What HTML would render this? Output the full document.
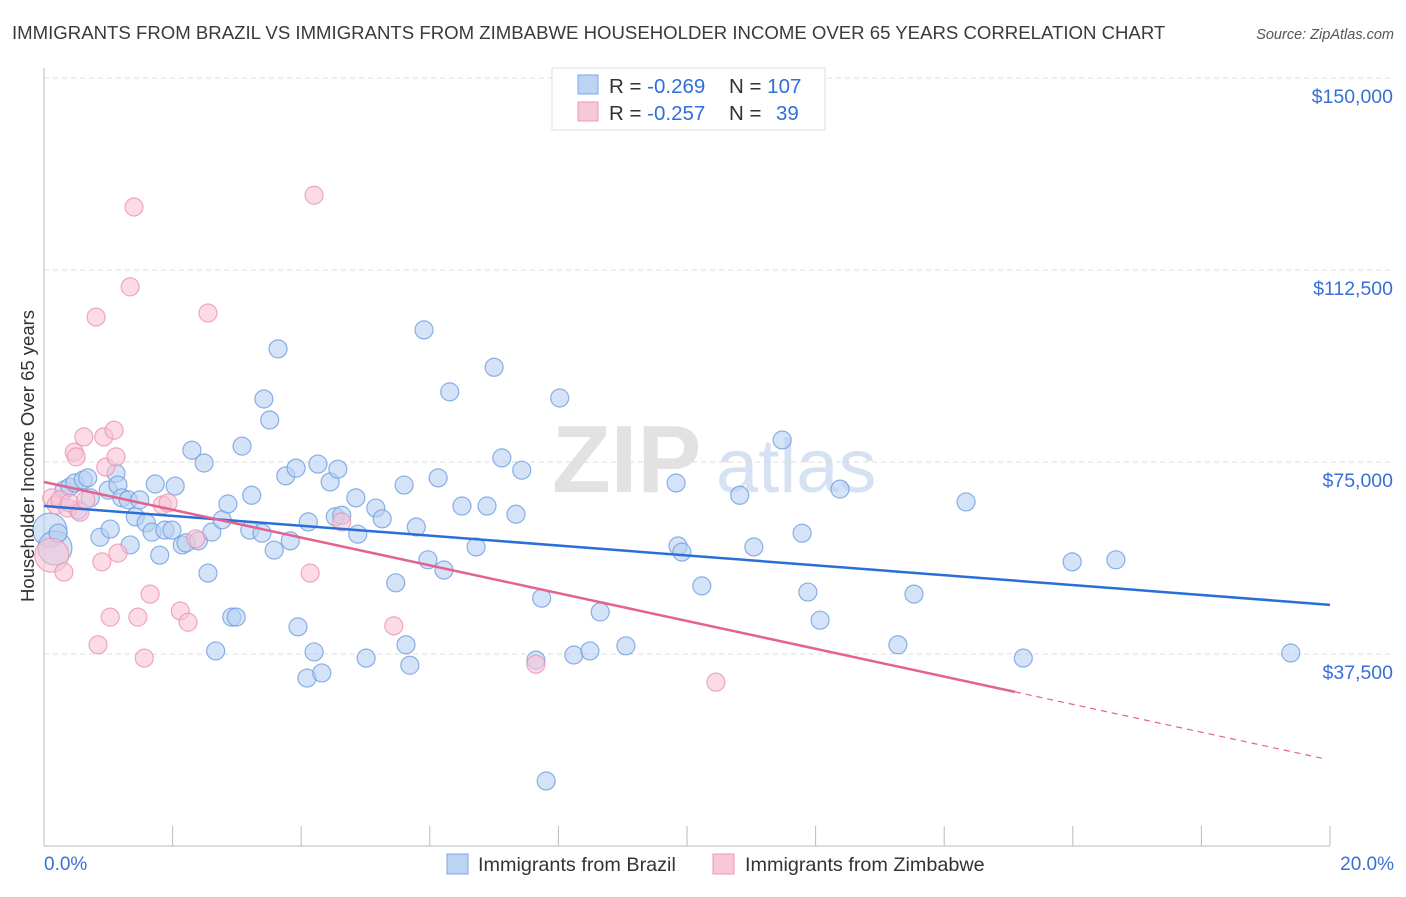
<!DOCTYPE html>
<html><head><meta charset="utf-8"><style>
body{margin:0;background:#fff;font-family:"Liberation Sans",sans-serif;}
svg text{font-family:"Liberation Sans",sans-serif;}
</style></head><body>
<svg id="chart" width="1406" height="892" xmlns="http://www.w3.org/2000/svg">
<text x="12" y="39" font-size="18.6" fill="#3a3a3a">IMMIGRANTS FROM BRAZIL VS IMMIGRANTS FROM ZIMBABWE HOUSEHOLDER INCOME OVER 65 YEARS CORRELATION CHART</text>
<text x="1394" y="39" font-size="14.5" fill="#555" font-style="italic" text-anchor="end">Source: ZipAtlas.com</text>
<g>
<text x="552" y="492" font-size="96" fill="#e2e2e2" font-family="Liberation Serif" font-weight="bold">ZIP</text>
<text x="716" y="492" font-size="76" fill="#d6e2f2">atlas</text>
</g>
<g id="grid"></g>
<g id="axes"></g>
<g id="pts"></g>
<g id="trends"></g>
<g>
<rect x="552" y="68" width="273" height="62" fill="#fff" stroke="#ddd"/>
<rect x="578" y="75" width="20" height="19" fill="#bcd4f4" stroke="#7ea6e0"/>
<rect x="578" y="102" width="20" height="19" fill="#f9c8d7" stroke="#eb9ab4"/>
<text x="609" y="93" font-size="20.5" fill="#333">R = <tspan fill="#2f6fd6">-0.269</tspan><tspan x="729">N = </tspan><tspan fill="#2f6fd6">107</tspan></text>
<text x="609" y="120" font-size="20.5" fill="#333">R = <tspan fill="#2f6fd6">-0.257</tspan><tspan x="729">N = </tspan><tspan fill="#2f6fd6" x="776">39</tspan></text>
</g>
<g>
<rect x="447" y="854" width="21" height="20" fill="#bcd4f4" stroke="#7ea6e0"/>
<text x="478" y="871" font-size="19.8" fill="#333">Immigrants from Brazil</text>
<rect x="713" y="854" width="21" height="20" fill="#f9c8d7" stroke="#eb9ab4"/>
<text x="745" y="871" font-size="19.8" fill="#333">Immigrants from Zimbabwe</text>
</g>
<text transform="translate(34,456) rotate(-90)" font-size="18.5" fill="#333" text-anchor="middle">Householder Income Over 65 years</text>
</svg>
<script>
const yTicks=[37500,75000,112500,150000];
const yTickLabels=["$37,500","$75,000","$112,500","$150,000"];
const xTickLabels=["0.0%","20.0%"];
const brazilX=[0.09,0.17,0.22,0.31,0.40,0.48,0.61,0.68,0.53,0.72,0.87,1.00,1.03,1.12,1.15,1.21,1.31,1.34,1.42,1.49,1.59,1.68,1.73,1.80,1.88,1.99,2.04,2.15,2.21,2.30,2.40,2.49,2.55,2.61,2.67,2.77,2.86,2.92,2.99,3.08,3.23,3.20,3.39,3.42,3.51,3.58,3.64,3.76,3.83,3.92,3.95,4.11,4.09,4.20,4.26,4.32,4.45,4.53,4.57,4.63,4.85,4.88,5.01,5.16,5.26,5.47,5.60,5.63,5.69,5.79,5.91,5.97,6.13,6.22,6.31,6.50,6.72,6.89,7.00,7.12,7.34,7.43,7.74,7.65,7.81,8.02,8.24,8.49,8.65,9.05,9.83,9.86,9.92,10.23,10.82,11.04,11.48,11.79,11.88,12.07,12.38,13.28,13.53,14.34,15.23,15.99,16.67,19.39];
const brazilY=[61.7,58.2,61.1,69.5,70.1,70.9,71.5,71.9,65.6,68.0,60.3,69.5,61.9,72.8,70.5,68.0,67.6,58.8,64.3,67.6,63.1,61.3,70.7,56.8,61.7,61.7,70.3,58.8,59.2,77.3,59.6,74.8,53.3,61.3,38.1,63.7,66.8,44.7,44.7,78.1,68.5,61.7,61.1,87.3,83.2,57.8,97.1,72.3,59.6,73.8,42.8,63.3,32.8,37.9,74.6,33.8,71.1,64.3,73.6,64.6,68.0,60.9,36.7,66.0,63.9,51.4,70.5,39.3,35.3,62.3,100.8,55.9,71.9,53.9,88.7,66.4,58.4,66.4,93.5,75.8,64.8,73.4,48.4,36.3,12.7,87.5,37.3,38.1,45.7,39.1,70.9,58.6,57.4,50.8,68.5,58.4,79.3,61.1,49.6,44.1,69.7,39.3,49.2,67.2,36.7,55.5,55.9,37.7];
const zimX=[0.12,0.12,0.19,0.25,0.31,0.37,0.40,0.47,0.50,0.56,0.62,0.65,0.81,0.84,0.90,0.93,0.96,1.03,1.09,1.12,1.15,1.34,1.40,1.46,1.56,1.65,1.84,1.93,2.12,2.24,2.36,2.55,4.14,4.20,4.63,5.44,7.65,10.45];
const zimY=[56.8,68.0,66.6,67.6,53.5,66.0,67.0,76.9,76.0,65.2,79.9,67.6,103.3,39.3,55.5,79.9,74.0,44.7,81.2,76.0,57.2,109.2,124.8,44.7,36.7,49.2,66.6,67.0,45.9,43.7,60.0,104.1,53.3,127.1,63.3,43.0,35.5,32.0];
const brazilBig=[0,1];
const zimBig=[0];
const brazilTrend=[66.4,47.1];
const zimTrend=[71.1,16.8];
const zimSolidEnd=15.1;

const X0=44,X1=1330,Y0=846,PX=192/37.5;
const sx=v=>X0+(v/20)*(X1-X0);
const sy=v=>Y0-v*PX;
const NS="http://www.w3.org/2000/svg";
function mk(tag,attrs,parent){const e=document.createElementNS(NS,tag);for(const k in attrs)e.setAttribute(k,attrs[k]);parent.appendChild(e);return e;}
const grid=document.getElementById('grid'),axes=document.getElementById('axes'),pts=document.getElementById('pts'),tr=document.getElementById('trends');
yTicks.forEach((t,i)=>{
  const y=sy(t/1000);
  const l=mk('line',{x1:X0,x2:1394,y1:y,y2:y,stroke:'#dcdcdc','stroke-dasharray':'5,4'},grid);
  
  
  const tx=mk('text',{x:1393,y:y+25,'font-size':19.5,fill:'#3a6fd6','text-anchor':'end'},axes);
  tx.textContent=yTickLabels[i];
  
  
});
mk('line',{x1:X0,x2:X0,y1:68,y2:846,stroke:'#bbb'},axes);
mk('line',{x1:X0,x2:X1,y1:846,y2:846,stroke:'#bbb'},axes);
for(let i=0;i<=10;i++){const x=sx(i*2);const t=mk('line',{x1:x,x2:x,y1:826,y2:846,stroke:'#bbb'},axes);
  
  }
const xl0=mk('text',{x:44,y:870,'font-size':19,fill:'#3a6fd6'},axes);xl0.textContent=xTickLabels[0];


const xl1=mk('text',{x:1394,y:870,'font-size':19,fill:'#3a6fd6','text-anchor':'end'},axes);xl1.textContent=xTickLabels[1];


function dots(xs,ys,big,fill,stroke,name){
  xs.forEach((v,i)=>{const r=big.includes(i)?17:9;
    const c=mk('circle',{cx:sx(v),cy:sy(ys[i]),r:r,fill:fill,'fill-opacity':0.6,stroke:stroke,'stroke-width':1.2,'stroke-opacity':0.8},pts);
    
    });
}
dots(brazilX,brazilY,brazilBig,'#b7d0f3','#6e9de0','brazil-point');
dots(zimX,zimY,zimBig,'#f8c3d3','#ec94b0','zimbabwe-point');
const bl=mk('line',{x1:sx(0),y1:sy(brazilTrend[0]),x2:sx(20),y2:sy(brazilTrend[1]),stroke:'#2a6fd8','stroke-width':2.5},tr);


const zAt=p=>zimTrend[0]+(zimTrend[1]-zimTrend[0])*p/20;
const zl=mk('line',{x1:sx(0),y1:sy(zimTrend[0]),x2:sx(zimSolidEnd),y2:sy(zAt(zimSolidEnd)),stroke:'#e3628e','stroke-width':2.5},tr);


const zd=mk('line',{x1:sx(zimSolidEnd),y1:sy(zAt(zimSolidEnd)),x2:sx(19.9),y2:sy(zAt(19.9)),stroke:'#e3628e','stroke-width':1.2,'stroke-dasharray':'6,5'},tr);


</script>
</body></html>
